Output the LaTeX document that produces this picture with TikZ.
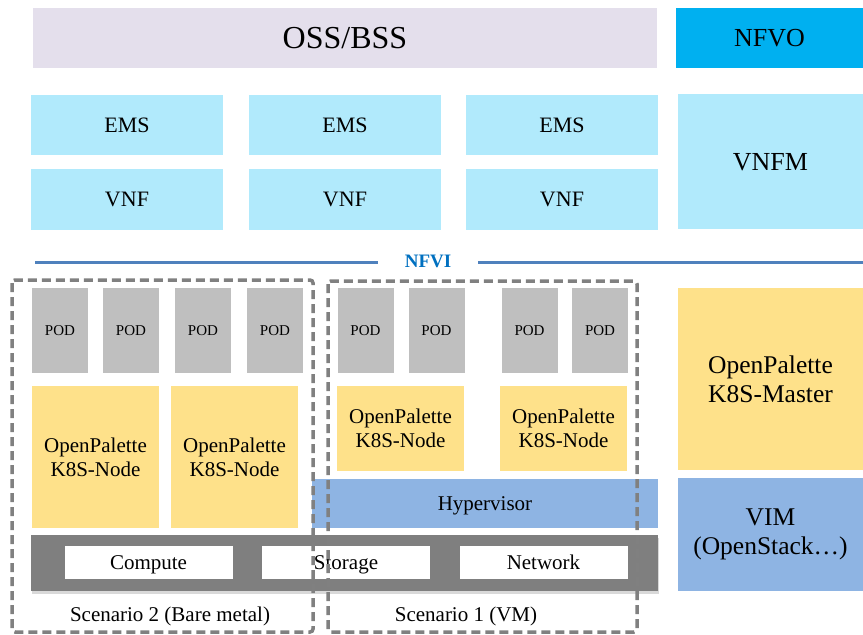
\documentclass[tikz,border=0pt]{standalone}
\usepackage{fontspec}
\setmainfont{Liberation Serif}
\usepackage{xcolor}
\usetikzlibrary{shadows}
\definecolor{ossclr}{HTML}{E4DFEC}
\definecolor{nfvoclr}{HTML}{00B0F0}
\definecolor{emsclr}{HTML}{B1EAFC}
\definecolor{podclr}{HTML}{BFBFBF}
\definecolor{k8sclr}{HTML}{FEE18A}
\definecolor{hypclr}{HTML}{8EB4E3}
\definecolor{barclr}{HTML}{7F7F7F}
\definecolor{lineclr}{HTML}{4F81BD}
\definecolor{nfviclr}{HTML}{0070C0}
\definecolor{dashclr}{HTML}{808080}

\begin{document}
\begin{tikzpicture}[x=1pt, y=-1pt,
    every node/.style={inner sep=0pt, align=center, font=\fontsize{21}{24}\selectfont},
    sz/.style 2 args={minimum width=#1pt, minimum height=#2pt},
    capbox/.style={text depth=0pt, text height=#1pt},
    capbox/.default=13.9,
    emsbox/.style={fill=emsclr, capbox=14.6, font=\fontsize{22}{26}\selectfont},
    podbox/.style={fill=podclr, sz={56}{85}, capbox=9.9, font=\fontsize{15}{17}\selectfont},
    nodebox/.style={fill=k8sclr},
    resbox/.style={fill=white, sz={168}{33}, capbox},
    divider/.style={line width=3pt, draw=lineclr},
    scenbox/.style={draw=dashclr, line width=3.5pt, dash pattern=on 9pt off 5pt, rounded corners=3pt}]
    \useasboundingbox (0,0) rectangle (863,635);

    % Management layer
    \node[fill=ossclr, sz={624}{60}, capbox=21.2, font=\fontsize{32}{36}\selectfont] (oss) at (345,38) {OSS/BSS};
    \node[fill=nfvoclr, sz={187}{60}, capbox=17.2, font=\fontsize{26}{30}\selectfont] (nfvo) at (769.5,38) {NFVO};

    % VNF layer
    \foreach \i/\cx in {1/127, 2/345, 3/562} {
        \node[emsbox, sz={192}{60}] (ems\i) at (\cx,125) {EMS};
        \node[emsbox, sz={192}{61}] (vnf\i) at (\cx,199.5) {VNF};
    }
    \node[emsbox, sz={185}{135}, capbox=17.2, font=\fontsize{26}{30}\selectfont] (vnfm) at (770.5,161.5) {VNFM};

    % NFVI divider
    \node[font=\fontsize{19}{22}\selectfont\bfseries, text=nfviclr, capbox=12.6, inner xsep=27pt] (nfvi) at (428,261) {NFVI};
    \coordinate (nfviL) at (35,262);
    \coordinate (nfviR) at (863,262);
    \draw[divider] (nfviL) -- (nfviL -| nfvi.west);
    \draw[divider] (nfvi.east |- nfviR) -- (nfviR);

    % PODs
    \foreach \i/\cx in {1/60, 2/131, 3/203, 4/275, 5/365.5, 6/436.5, 7/529.5, 8/600}
        \node[podbox] (pod\i) at (\cx,330.5) {POD};

    % K8S nodes
    \node[nodebox, sz={127}{142}] (bmnode1) at (95.5,457) {OpenPalette\\K8S-Node};
    \node[nodebox, sz={127}{142}] (bmnode2) at (234.5,457) {OpenPalette\\K8S-Node};
    \node[nodebox, sz={127}{85}] (vmnode1) at (400.5,428.5) {OpenPalette\\K8S-Node};
    \node[nodebox, sz={127}{85}] (vmnode2) at (563.5,428.5) {OpenPalette\\K8S-Node};

    % Hypervisor and hardware
    \node[fill=hypclr, sz={346}{49}, capbox] (hyp) at (485,503.5) {Hypervisor};
    \node[fill=barclr, sz={627}{56}, drop shadow={shadow xshift=1pt, shadow yshift=-3pt, opacity=0.3}] (hw) at (344.5,563) {};
    \node[resbox] (compute) at (148.5,562.5) {Compute};
    \node[resbox] (storage) at (346,562.5) {Storage};
    \node[resbox] (network) at (543.5,562.5) {Network};

    % Right column
    \node[nodebox, sz={185}{182}, font=\fontsize{25.5}{29}\selectfont] (master) at (770.5,379) {OpenPalette\\K8S-Master};
    \node[fill=hypclr, sz={185}{113}, font=\fontsize{25.5}{29}\selectfont] (vim) at (770.5,534) {VIM\\(OpenStack…)};

    % Scenarios
    \draw[scenbox] (12,280) rectangle (313,632);
    \draw[scenbox] (328,281) rectangle (637,632);
    \node[capbox] (sc2) at (170,615) {Scenario 2 (Bare metal)};
    \node[capbox] (sc1) at (466,615) {Scenario 1 (VM)};
\end{tikzpicture}
\end{document}
